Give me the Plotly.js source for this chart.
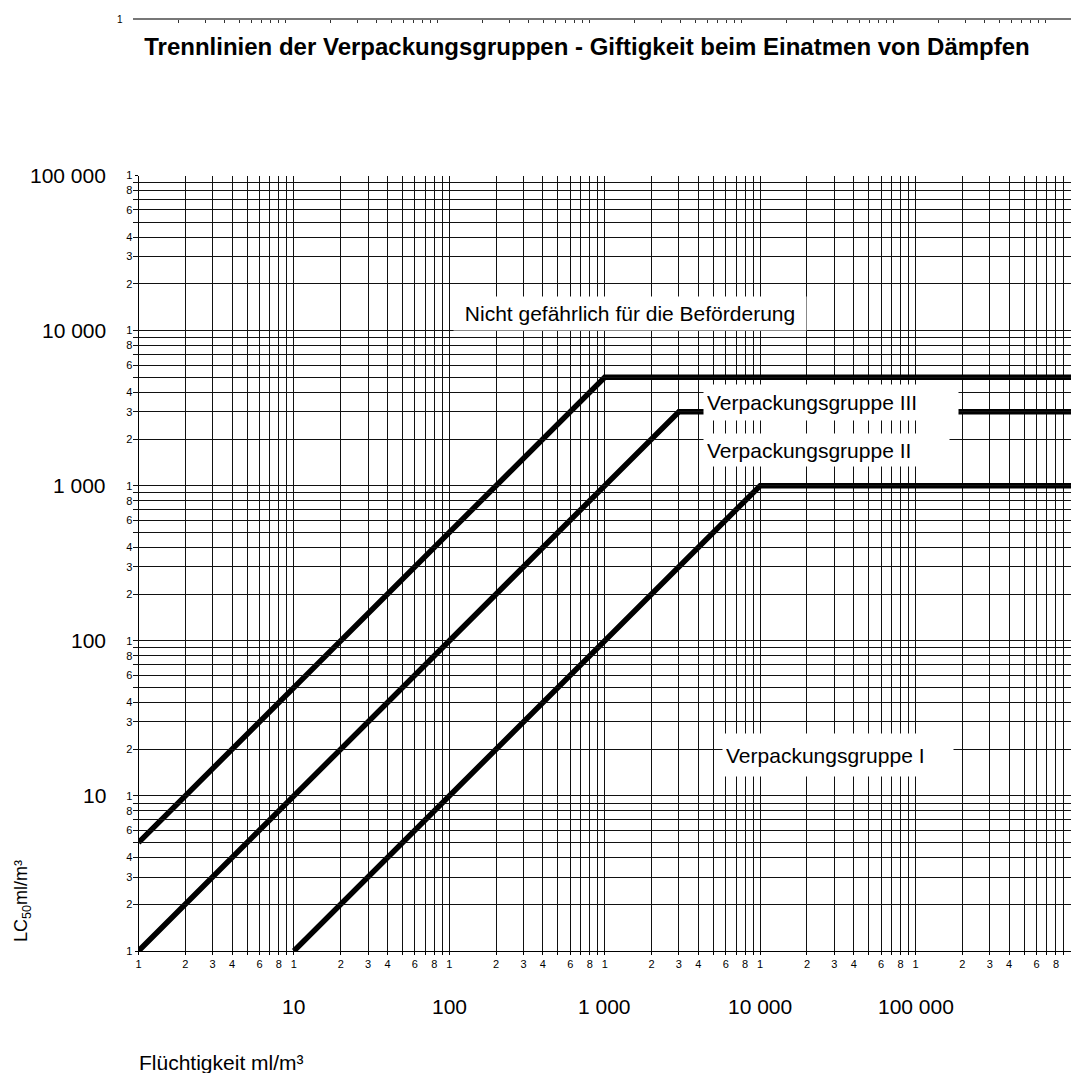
<!DOCTYPE html>
<html>
<head>
<meta charset="utf-8">
<script src="https://cdn.plot.ly/plotly-3.0.1.min.js"></script>
<style>html,body{margin:0;padding:0;background:#fff;}#chart{width:1071px;height:1073px;}</style>
</head>
<body>
<div id="chart"></div>
<script>
// ---- data ----
const line1X = [1, 1000, 1000000];
const line1Y = [5, 5000, 5000];
const line2X = [1, 3000, 1000000];
const line2Y = [1, 3000, 3000];
const line3X = [10, 10000, 1000000];
const line3Y = [1, 1000, 1000];

const decadesX = [1, 10, 100, 1000, 10000, 100000];
const decadesY = [1, 10, 100, 1000, 10000];
const multiples = [1, 2, 3, 4, 5, 6, 7, 8, 9];
const labelledMultiples = [1, 2, 3, 4, 6, 8];

const xBigVals = [10, 100, 1000, 10000, 100000];
const xBigText = ['10', '100', '1 000', '10 000', '100 000'];
const yBigVals = [10, 100, 1000, 10000, 100000];
const yBigText = ['10', '100', '1 000', '10 000', '100 000'];

const regionLabels = ['Nicht gefährlich für die Beförderung', 'Verpackungsgruppe III', 'Verpackungsgruppe II', 'Verpackungsgruppe I'];

const titleText = 'Trennlinien der Verpackungsgruppen - Giftigkeit beim Einatmen von Dämpfen';
const xTitle = 'Flüchtigkeit ml/m³';
const yTitle = 'LC<sub>50</sub>ml/m³';

// ---- ticks ----
function buildTicks(decades, topVal) {
  const vals = [], text = [];
  decades.forEach(d => multiples.forEach(m => {
    vals.push(d * m);
    text.push(labelledMultiples.includes(m) ? String(m) : ' ');
  }));
  vals.push(topVal); text.push('1');
  return {vals, text};
}
const xt = buildTicks(decadesX, 1000000);
const yt = buildTicks(decadesY, 100000);

const topTickVals = [];
[1, 10, 100, 1000, 10000, 100000, 1000000].forEach(d => multiples.forEach(m => topTickVals.push(d * m)));

const FONT = 'Liberation Sans, Arial, sans-serif';
const W = 1071, H = 1073, L = 133, R = 0, T = 19, B = 122;
const PW = W - L - R, PH = H - T - B;
const px2paperX = p => (p - L) / PW;
const px2paperY = p => (H - B - p) / PH;

const lineStyle = {color: '#000', width: 5.5};
const traces = [
  {x: line1X, y: line1Y, mode: 'lines', line: lineStyle, hoverinfo: 'skip'},
  {x: line2X, y: line2Y, mode: 'lines', line: lineStyle, hoverinfo: 'skip'},
  {x: line3X, y: line3Y, mode: 'lines', line: lineStyle, hoverinfo: 'skip'},
  {x: [1], y: [1], xaxis: 'x2', yaxis: 'y', mode: 'markers', marker: {opacity: 0}, hoverinfo: 'skip'}
];

const annotations = [];
xBigVals.forEach((v, i) => annotations.push({
  xref: 'x', yref: 'paper', x: Math.log10(v), y: 0, yanchor: 'middle', xanchor: 'center',
  yshift: -55, text: xBigText[i], showarrow: false, font: {family: FONT, size: 21, color: '#000'}
}));
yBigVals.forEach((v, i) => annotations.push({
  xref: 'paper', yref: 'y', x: px2paperX(108), y: Math.log10(v), xanchor: 'right', yanchor: 'middle',
  text: yBigText[i], showarrow: false, font: {family: FONT, size: 21, color: '#000'}
}));
// region labels with white boxes (positions in log10 data units)
const labelPos = [
  {x: (453 - 138.5) / 155.5, y: 4.11, w: 346, h: 27, align: 'center'},
  {x: 3.63, y: 3.537, w: 248, h: 29, align: 'left'},
  {x: 3.63, y: 3.227, w: 239, h: 26, align: 'left'},
  {x: 3.753, y: 1.262, w: 224, h: 36, align: 'left'}
];
regionLabels.forEach((t, i) => annotations.push({
  xref: 'x', yref: 'y', x: labelPos[i].x, y: labelPos[i].y, xanchor: 'left', yanchor: 'middle',
  text: t, showarrow: false, bgcolor: '#fff', width: labelPos[i].w, height: labelPos[i].h,
  align: labelPos[i].align, borderpad: 3, font: {family: FONT, size: 21, color: '#000'}
}));

annotations.push({
  xref: 'paper', yref: 'paper', x: px2paperX(22), y: px2paperY(901), textangle: -90,
  xanchor: 'center', yanchor: 'middle', text: yTitle, showarrow: false,
  font: {family: FONT, size: 18, color: '#000'}
});
annotations.push({
  xref: 'paper', yref: 'paper', x: px2paperX(137), y: px2paperY(1062), xanchor: 'left', yanchor: 'middle',
  text: xTitle, showarrow: false, font: {family: FONT, size: 21, color: '#000'}
});
annotations.push({
  xref: 'paper', yref: 'paper', x: px2paperX(125), y: 1, xanchor: 'right', yanchor: 'middle',
  text: '1', showarrow: false, font: {family: FONT, size: 10, color: '#000'}
});

const gridCol = '#111';
const layout = {
  width: W, height: H,
  margin: {l: L, r: R, t: T, b: B},
  paper_bgcolor: '#fff', plot_bgcolor: 'rgba(0,0,0,0)',
  showlegend: false,
  title: {
    text: titleText, xref: 'paper', x: px2paperX(587), xanchor: 'center',
    yref: 'container', y: 1 - 47 / H, yanchor: 'middle',
    font: {family: FONT, size: 24, color: '#000', weight: 700}
  },
  xaxis: {
    type: 'log', range: [0, 6], domain: [px2paperX(138.5), 1],
    tickmode: 'array', tickvals: xt.vals, ticktext: xt.text, tickangle: 0,
    showgrid: true, gridcolor: gridCol, gridwidth: 1,
    ticks: 'outside', ticklen: 3, tickcolor: '#000',
    showline: true, linecolor: '#000', linewidth: 1,
    tickfont: {family: FONT, size: 11, color: '#000'}, zeroline: false, fixedrange: true
  },
  yaxis: {
    type: 'log', range: [0, 5], domain: [0, px2paperY(175.5)],
    tickmode: 'array', tickvals: yt.vals, ticktext: yt.text,
    showgrid: true, gridcolor: gridCol, gridwidth: 1,
    ticks: 'outside', ticklen: 3, tickcolor: '#000',
    showline: true, linecolor: '#000', linewidth: 1,
    tickfont: {family: FONT, size: 11, color: '#000'}, zeroline: false, fixedrange: true
  },
  xaxis2: {
    type: 'log', range: [0, PW / 152], domain: [0, 1], anchor: 'free', position: 1, side: 'top',
    tickmode: 'array', tickvals: topTickVals, showticklabels: false,
    ticks: 'inside', ticklen: 3, tickcolor: '#333', tickwidth: 1,
    showgrid: false, showline: true, linecolor: '#777', linewidth: 2, zeroline: false, fixedrange: true
  },
  annotations: annotations
};

Plotly.newPlot('chart', traces, layout, {displayModeBar: false, staticPlot: true});
</script>
</body>
</html>
